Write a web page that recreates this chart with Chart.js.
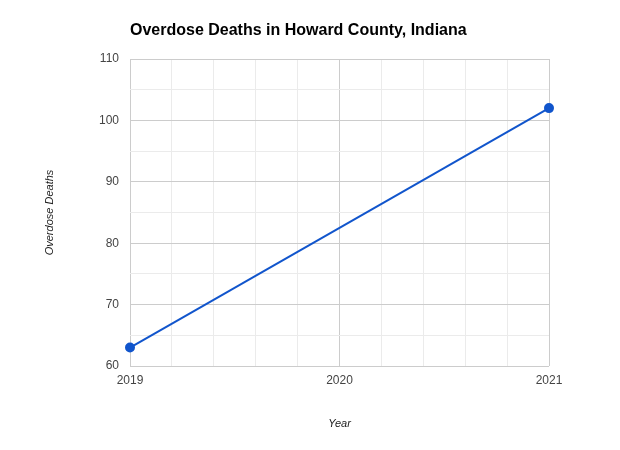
<!DOCTYPE html>
<html>
<head>
<meta charset="utf-8">
<script src="https://cdn.jsdelivr.net/npm/chart.js@4/dist/chart.umd.min.js"></script>
<style>
  html, body { margin: 0; padding: 0; background: #fff; }
  #wrap { width: 620px; height: 450px; }
</style>
</head>
<body>
<div id="wrap"><canvas id="myChart" width="620" height="450"></canvas></div>
<script>
// data
var years = [2019, 2021];
var deaths = [63, 102];
var xTickLabels = [2019, 2020, 2021];
var yTickLabels = [60, 70, 80, 90, 100, 110];

var chartTitle = 'Overdose Deaths in Howard County, Indiana';
var font = 'Arial, "Liberation Sans", sans-serif';

// draws the title left-aligned over the plot area
var titlePlugin = {
    id: 'leftTitle',
    afterDraw: function (chart) {
        var c = chart.ctx;
        c.save();
        c.font = 'bold 16px ' + font;
        c.fillStyle = '#000';
        c.textBaseline = 'alphabetic';
        c.textAlign = 'left';
        c.fillText(chartTitle, chart.chartArea.left, 35);
        c.restore();
    }
};

var ctx = document.getElementById('myChart').getContext('2d');
var myChart = new Chart(ctx, {
    type: 'line',
    data: {
        datasets: [{
            data: years.map(function (y, i) { return { x: y, y: deaths[i] }; }),
            borderColor: '#1155cc',
            backgroundColor: '#1155cc',
            borderWidth: 2,
            pointRadius: 4,
            pointHoverRadius: 4,
            tension: 0,
            clip: false
        }]
    },
    options: {
        responsive: false,
        animation: false,
        layout: { padding: { top: 59, right: 71, left: 0, bottom: 0 } },
        plugins: {
            legend: { display: false },
            tooltip: { enabled: false },
            title: { display: false }
        },
        scales: {
            x: {
                type: 'linear',
                min: 2019,
                max: 2021,
                afterFit: function (scale) { scale.height = 84; },
                afterBuildTicks: function (scale) {
                    var t = [];
                    for (var i = 0; i <= 10; i++) t.push({ value: 2019 + i * 0.2 });
                    scale.ticks = t;
                },
                ticks: {
                    autoSkip: false,
                    maxRotation: 0,
                    padding: 7,
                    color: '#444',
                    font: { family: font, size: 12 },
                    callback: function (v) {
                        var r = Math.round(v);
                        return (Math.abs(v - r) < 1e-6 && xTickLabels.indexOf(r) >= 0) ? String(r) : '';
                    }
                },
                grid: {
                    drawTicks: false,
                    color: function (c) {
                        var v = c.tick.value;
                        return Math.abs(v - Math.round(v)) < 1e-6 ? '#cccccc' : '#ebebeb';
                    },
                    lineWidth: 1
                },
                border: { display: false },
                title: {
                    display: true,
                    text: 'Year',
                    color: '#222',
                    font: { family: font, size: 11, style: 'italic' },
                    padding: { top: 0, bottom: 19 }
                }
            },
            y: {
                min: 60,
                max: 110,
                afterFit: function (scale) { scale.width = 130; },
                ticks: {
                    stepSize: 5,
                    autoSkip: false,
                    padding: 11,
                    color: '#444',
                    font: { family: font, size: 12 },
                    callback: function (v) {
                        return yTickLabels.indexOf(v) >= 0 ? String(v) : '';
                    }
                },
                grid: {
                    drawTicks: false,
                    color: function (c) {
                        return c.tick.value % 10 === 0 ? '#cccccc' : '#ebebeb';
                    },
                    lineWidth: 1
                },
                border: { display: false },
                title: {
                    display: true,
                    text: 'Overdose Deaths',
                    color: '#222',
                    font: { family: font, size: 11, style: 'italic' },
                    padding: { top: 43, bottom: 0 }
                }
            }
        }
    },
    plugins: [titlePlugin]
});
</script>
</body>
</html>
